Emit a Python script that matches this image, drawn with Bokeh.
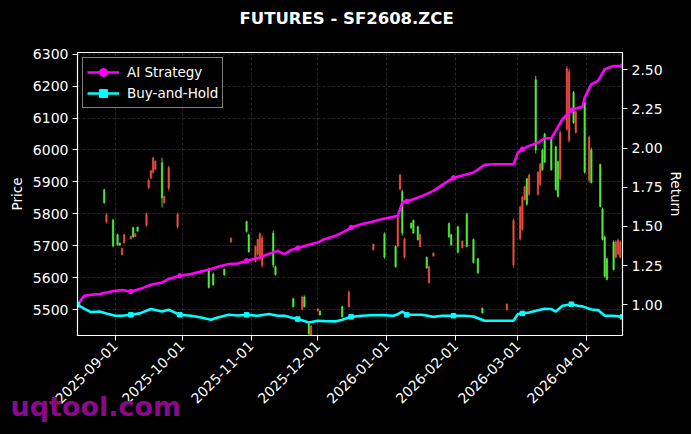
import pandas as pd
from bokeh.plotting import figure
from bokeh.models import (Range1d, LinearAxis, FixedTicker, DatetimeTickFormatter,
                          Title, NumeralTickFormatter, ColumnDataSource)
from bokeh.embed import file_html
from bokeh.resources import INLINE

# ---------------- data ----------------
title_text = "FUTURES - SF2608.ZCE"
watermark_text = "uqtool.com"

candle_dates = [
    "2025-08-27", "2025-08-28", "2025-08-31", "2025-09-02", "2025-09-03", "2025-09-04",
    "2025-09-05", "2025-09-08", "2025-09-09", "2025-09-10", "2025-09-11", "2025-09-15",
    "2025-09-16", "2025-09-17", "2025-09-18", "2025-09-19", "2025-09-22", "2025-09-23",
    "2025-09-25", "2025-09-29", "2025-10-13", "2025-10-15", "2025-10-20", "2025-10-23",
    "2025-10-30", "2025-10-31", "2025-11-03", "2025-11-04", "2025-11-05", "2025-11-06",
    "2025-11-11", "2025-11-12", "2025-11-20", "2025-11-24", "2025-11-25", "2025-11-27",
    "2025-11-28", "2025-12-01", "2025-12-02", "2025-12-12", "2025-12-15", "2025-12-26",
    "2025-12-31", "2026-01-05", "2026-01-06", "2026-01-07", "2026-01-08", "2026-01-09",
    "2026-01-12", "2026-01-13", "2026-01-15", "2026-01-16", "2026-01-19", "2026-01-20",
    "2026-01-22", "2026-01-29", "2026-01-30", "2026-02-02", "2026-02-04", "2026-02-06",
    "2026-02-09", "2026-02-11", "2026-02-13", "2026-02-24", "2026-02-27", "2026-03-02",
    "2026-03-03", "2026-03-04", "2026-03-05", "2026-03-06", "2026-03-09", "2026-03-10",
    "2026-03-11", "2026-03-12", "2026-03-13", "2026-03-16", "2026-03-18", "2026-03-19",
    "2026-03-20", "2026-03-23", "2026-03-24", "2026-03-26", "2026-03-27", "2026-03-31",
    "2026-04-02", "2026-04-03", "2026-04-07", "2026-04-08", "2026-04-09", "2026-04-10",
    "2026-04-13", "2026-04-14", "2026-04-15", "2026-04-16",
]
candle_open = [
    5835, 5798, 5700, 5703, 5702, 5692, 5735, 5730, 5728, 5738, 5746, 5800,
    5905, 5935, 5975, 5965, 5850, 5855, 5945, 5800, 5570, 5578, 5609, 5724,
    5745, 5682, 5698, 5720, 5738, 5725, 5640, 5610, 5510, 5540, 5510, 5425,
    5450, 5503, 5484, 5478, 5555, 5705, 5665, 5635, 5788, 5922, 5740, 5722,
    5756, 5740, 5719, 5735, 5631, 5635, 5678, 5728, 5703, 5680, 5715, 5698,
    5648, 5615, 5490, 5518, 5780, 5822, 5852, 5885, 5830, 5922, 6000, 5930,
    5955, 5938, 5962, 5938, 5876, 5855, 6055, 6255, 6245, 6085, 6120, 5930,
    6040, 5898, 5823, 5720, 5605, 5595, 5626, 5712, 5718, 5712,
]
candle_high = [
    5879, 5802, 5785, 5738, 5710, 5695, 5738, 5732, 5760, 5740, 5760, 5804,
    5910, 5938, 5979, 5967, 5976, 5857, 5951, 5804, 5632, 5617, 5629, 5726,
    5779, 5738, 5701, 5723, 5742, 5732, 5748, 5638, 5538, 5545, 5545, 5458,
    5451, 5504, 5498, 5513, 5560, 5707, 5742, 5701, 5792, 5926, 5876, 5726,
    5773, 5782, 5763, 5738, 5667, 5638, 5679, 5773, 5738, 5763, 5717, 5804,
    5723, 5663, 5507, 5520, 5785, 5826, 5857, 5888, 5913, 5926, 6232, 5935,
    5960, 6004, 6054, 6038, 6013, 5967, 6060, 6263, 6254, 6185, 6123, 6160,
    6045, 6007, 5957, 5820, 5732, 5663, 5717, 5717, 5723, 5717,
]
candle_low = [
    5832, 5770, 5695, 5701, 5701, 5670, 5707, 5720, 5726, 5728, 5745, 5760,
    5879, 5910, 5926, 5936, 5820, 5832, 5873, 5754, 5567, 5576, 5607, 5710,
    5742, 5679, 5648, 5670, 5654, 5632, 5632, 5607, 5507, 5498, 5507, 5418,
    5410, 5495, 5482, 5476, 5507, 5685, 5660, 5632, 5695, 5873, 5732, 5660,
    5754, 5738, 5717, 5695, 5629, 5582, 5667, 5726, 5701, 5676, 5692, 5695,
    5645, 5613, 5488, 5498, 5632, 5717, 5748, 5842, 5826, 5857, 5989, 5857,
    5888, 5935, 5960, 5935, 5873, 5851, 5904, 6060, 6023, 6082, 6051, 5926,
    5898, 5895, 5820, 5717, 5601, 5592, 5623, 5660, 5670, 5660,
]
candle_close = [
    5875, 5775, 5780, 5735, 5709, 5673, 5710, 5722, 5757, 5730, 5759, 5764,
    5882, 5912, 5930, 5940, 5960, 5835, 5880, 5760, 5625, 5612, 5627, 5712,
    5776, 5735, 5652, 5675, 5660, 5640, 5740, 5635, 5535, 5502, 5540, 5455,
    5414, 5496, 5496, 5510, 5510, 5688, 5738, 5698, 5700, 5878, 5870, 5665,
    5771, 5780, 5760, 5698, 5664, 5585, 5668, 5770, 5735, 5760, 5694, 5800,
    5720, 5660, 5505, 5500, 5640, 5722, 5752, 5845, 5910, 5862, 6220, 5862,
    5892, 6000, 6050, 6035, 6010, 5963, 5910, 6065, 6030, 6180, 6055, 6150,
    5905, 6000, 5955, 5815, 5728, 5660, 5712, 5665, 5675, 5665,
]

line_dates = [
    "2025-08-15", "2025-08-18", "2025-08-21", "2025-08-25", "2025-08-28", "2025-09-01",
    "2025-09-04", "2025-09-08", "2025-09-12", "2025-09-17", "2025-09-22", "2025-09-25",
    "2025-09-30", "2025-10-05", "2025-10-09", "2025-10-14", "2025-10-17", "2025-10-22",
    "2025-10-26", "2025-10-30", "2025-11-04", "2025-11-09", "2025-11-13", "2025-11-16",
    "2025-11-19", "2025-11-22", "2025-11-27", "2025-12-01", "2025-12-04", "2025-12-09",
    "2025-12-12", "2025-12-16", "2025-12-21", "2025-12-25", "2025-12-30", "2026-01-04",
    "2026-01-06", "2026-01-08", "2026-01-10", "2026-01-13", "2026-01-17", "2026-01-22",
    "2026-01-26", "2026-01-31", "2026-02-05", "2026-02-09", "2026-02-14", "2026-02-18",
    "2026-02-27", "2026-03-01", "2026-03-03", "2026-03-06", "2026-03-10", "2026-03-13",
    "2026-03-16", "2026-03-18", "2026-03-21", "2026-03-25", "2026-03-28", "2026-03-30",
    "2026-03-31", "2026-04-03", "2026-04-06", "2026-04-09", "2026-04-13", "2026-04-17",
]
ai_strategy = [
    1.000, 1.057, 1.064, 1.068, 1.078, 1.089,
    1.094, 1.085, 1.100, 1.128, 1.142, 1.165,
    1.185, 1.196, 1.210, 1.228, 1.242, 1.260,
    1.263, 1.281, 1.298, 1.325, 1.344, 1.323,
    1.349, 1.362, 1.383, 1.397, 1.419, 1.440,
    1.461, 1.493, 1.515, 1.529, 1.547, 1.561,
    1.568, 1.652, 1.660, 1.674, 1.695, 1.727,
    1.765, 1.810, 1.829, 1.844, 1.893, 1.897,
    1.897, 1.971, 1.993, 2.014, 2.035, 2.063,
    2.063, 2.110, 2.184, 2.242, 2.258, 2.263,
    2.322, 2.408, 2.429, 2.503, 2.524, 2.524,
]
buy_and_hold = [
    1.000, 0.975, 0.953, 0.957, 0.945, 0.930,
    0.930, 0.936, 0.945, 0.973, 0.957, 0.968,
    0.936, 0.930, 0.920, 0.904, 0.919, 0.936,
    0.932, 0.936, 0.930, 0.941, 0.930, 0.930,
    0.919, 0.909, 0.887, 0.898, 0.896, 0.894,
    0.904, 0.923, 0.930, 0.933, 0.934, 0.930,
    0.940, 0.957, 0.936, 0.936, 0.936, 0.923,
    0.930, 0.930, 0.930, 0.925, 0.898, 0.898,
    0.898, 0.941, 0.945, 0.951, 0.965, 0.975,
    0.973, 0.957, 0.994, 1.004, 0.994, 0.990,
    0.985, 0.970, 0.966, 0.930, 0.930, 0.923,
]
marker_dates = [
    "2025-08-15", "2025-09-08", "2025-09-30", "2025-10-30", "2025-11-22", "2025-12-16",
    "2026-01-10", "2026-01-31", "2026-03-03", "2026-03-25", "2026-04-17",
]

price_ticks = [5500, 5600, 5700, 5800, 5900, 6000, 6100, 6200, 6300]
return_ticks = [1.00, 1.25, 1.50, 1.75, 2.00, 2.25, 2.50]
date_ticks = ["2025-09-01", "2025-10-01", "2025-11-01", "2025-12-01",
              "2026-01-01", "2026-02-01", "2026-03-01", "2026-04-01"]

# ---------------- build ----------------
FONT = "DejaVu Sans"
UP = "#55ee3c"
DOWN = "#ee5040"

cd = pd.DataFrame({
    "date": pd.to_datetime(candle_dates),
    "open": candle_open, "high": candle_high,
    "low": candle_low, "close": candle_close,
})
cd["color"] = [UP if c >= o else DOWN for o, c in zip(cd["open"], cd["close"])]
cd["top"] = cd[["open", "close"]].max(axis=1)
cd["bottom"] = cd[["open", "close"]].min(axis=1)
csrc = ColumnDataSource(cd)

ld = pd.DataFrame({"date": pd.to_datetime(line_dates),
                   "ai": ai_strategy, "bh": buy_and_hold})
md = ld[ld["date"].isin(pd.to_datetime(marker_dates))]
lsrc = ColumnDataSource(ld)
msrc = ColumnDataSource(md)

p = figure(
    frame_width=545, frame_height=283,
    x_axis_type="datetime",
    x_range=Range1d(pd.Timestamp(line_dates[0]), pd.Timestamp(line_dates[-1])),
    y_range=Range1d(5419.7, 6305.0),
    output_backend="svg", toolbar_location=None,
    min_border_left=77, min_border_right=69, min_border_top=52, min_border_bottom=99,
    background_fill_color="black", border_fill_color="black",
    outline_line_color="white", outline_line_width=1.2,
)
p.extra_y_ranges = {"ret": Range1d(0.804, 2.610)}

# title: a blank spacer next to the frame, then the real title above it
spacer = Title(text=" ", text_font_size="10px", standoff=11.5)
p.add_layout(spacer, "above")
main_title = Title(text=title_text, text_color="white", text_font=FONT,
                   text_font_size="16.5px", text_font_style="bold",
                   align="left", offset=162, standoff=0)
p.add_layout(main_title, "above")

# candles
p.segment(x0="date", y0="low", x1="date", y1="high", color="color",
          line_width=1, alpha=0.9, source=csrc)
p.vbar(x="date", top="top", bottom="bottom", width=0.7 * 86400000,
       fill_color="color", line_color="color", line_width=0.5, alpha=0.9, source=csrc)

# lines
p.line("date", "ai", source=lsrc, y_range_name="ret", color="#ff00ff",
       line_width=2.6, legend_label="AI Strategy")
p.scatter("date", "ai", source=msrc, y_range_name="ret", marker="circle", size=4.5,
          color="#ff00ff", legend_label="AI Strategy")
p.line("date", "bh", source=lsrc, y_range_name="ret", color="#00ffff",
       line_width=2.6, legend_label="Buy-and-Hold")
p.scatter("date", "bh", source=msrc, y_range_name="ret", marker="square", size=4.5,
          color="#00ffff", legend_label="Buy-and-Hold")

# axes
def style_axis(ax):
    ax.axis_line_color = "white"
    ax.major_tick_line_color = "white"
    ax.minor_tick_line_color = None
    ax.major_tick_out = 5
    ax.major_tick_in = 0
    ax.major_label_text_color = "white"
    ax.major_label_text_font = FONT
    ax.major_label_text_font_size = "14px"
    ax.axis_label_text_color = "white"
    ax.axis_label_text_font = FONT
    ax.axis_label_text_font_size = "13.5px"
    ax.axis_label_text_font_style = "normal"

yl = p.yaxis[0]
yl.ticker = FixedTicker(ticks=price_ticks)
yl.axis_label = "Price"
yl.major_label_standoff = 4
yl.axis_label_standoff = 5
style_axis(yl)

yr = LinearAxis(y_range_name="ret", axis_label="Return",
                ticker=FixedTicker(ticks=return_ticks),
                formatter=NumeralTickFormatter(format="0.00"))
yr.major_label_standoff = 4
yr.axis_label_standoff = 2
style_axis(yr)
p.add_layout(yr, "right")

xa = p.xaxis[0]
xa.ticker = FixedTicker(ticks=[pd.Timestamp(d).value // 10**6 for d in date_ticks])
fmt = "%Y-%m-%d"
xa.formatter = DatetimeTickFormatter(milliseconds=fmt, seconds=fmt, minsec=fmt, minutes=fmt,
                                     hourmin=fmt, hours=fmt, days=fmt, months=fmt, years=fmt)
xa.major_label_orientation = 0.785398
xa.major_label_standoff = 3
style_axis(xa)

# watermark, placed in the panel below the date axis and pulled up over it
wm = Title(text=watermark_text, text_color="#8b0a8b", text_font=FONT,
           text_font_size="27px", text_font_style="bold",
           align="left", offset=-67, vertical_align="top", standoff=-42)
p.add_layout(wm, "below")

# grid
for g in (p.xgrid[0], p.ygrid[0]):
    g.grid_line_color = "#6a6a6a"
    g.grid_line_alpha = 0.6
    g.grid_line_width = 0.6
    g.grid_line_dash = "3 2"

# legend
lg = p.legend[0]
lg.location = "top_left"
lg.margin = 5
lg.padding = 4
lg.spacing = 1
lg.glyph_width = 32
lg.label_standoff = 8
lg.background_fill_color = "black"
lg.background_fill_alpha = 0.9
lg.border_line_color = "white"
lg.border_line_width = 1
lg.label_text_color = "white"
lg.label_text_font = FONT
lg.label_text_font_size = "13.5px"

html = file_html(p, INLINE, title=title_text)
html = html.replace("<head>", "<head><style>body{background:#000000;}</style>", 1)
open("out.html", "w").write(html)
